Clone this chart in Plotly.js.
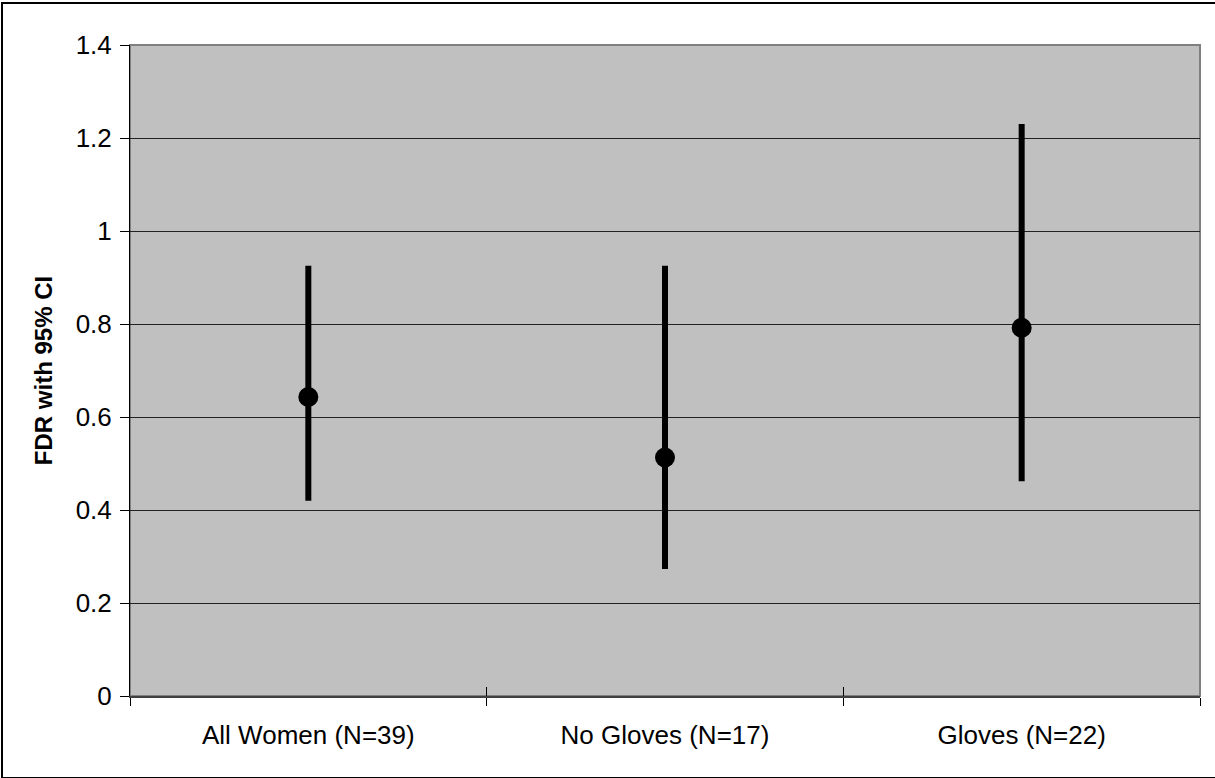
<!DOCTYPE html>
<html>
<head>
<meta charset="utf-8">
<script src="https://cdn.plot.ly/plotly-3.0.1.min.js"></script>
<style>
  html, body { margin: 0; padding: 0; background: #fff; }
  #wrap { position: relative; width: 1215px; height: 778px; overflow: hidden; }
  #chart { width: 1215px; height: 778px; }
  #frame { position: absolute; left: 1px; top: 2px; width: 1216px; height: 773px;
           border: 2px solid #000; pointer-events: none; }
</style>
</head>
<body>
<div id="wrap">
  <div id="chart"></div>
  <div id="frame"></div>
</div>
<script>
// Groups and their FDR point estimates with 95% confidence limits
const groups = ["All Women (N=39)", "No Gloves (N=17)", "Gloves (N=22)"];
const fdr = [0.643, 0.513, 0.792];
const ciUpper = [0.925, 0.925, 1.23];
const ciLower = [0.42, 0.273, 0.462];

const errPlus = fdr.map((v, i) => ciUpper[i] - v);
const errMinus = fdr.map((v, i) => v - ciLower[i]);

const font = "Liberation Sans, Arial, sans-serif";

const trace = {
  type: "scatter",
  mode: "markers",
  x: groups,
  y: fdr,
  marker: { color: "#000", size: 20 },
  error_y: {
    type: "data",
    symmetric: false,
    array: errPlus,
    arrayminus: errMinus,
    color: "#000",
    thickness: 6,
    width: 0
  },
  hoverinfo: "x+y",
  showlegend: false
};

const layout = {
  width: 1215,
  height: 778,
  margin: { l: 130, r: 15, t: 45, b: 82 },
  paper_bgcolor: "#fff",
  plot_bgcolor: "#c0c0c0",
  showlegend: false,
  font: { family: font, size: 26, color: "#000" },
  xaxis: {
    type: "category",
    range: [-0.5, 2.5],
    tickson: "boundaries",
    ticks: "outside",
    ticklen: 8,
    tickwidth: 1,
    tickcolor: "#000",
    showgrid: false,
    showline: true,
    linecolor: "#404040",
    linewidth: 2,
    zeroline: false,
    tickfont: { family: font, size: 26, color: "#000" },
    ticklabelstandoff: 15,
    fixedrange: true
  },
  // second bottom axis supplies the upper half of the crossing tick marks
  xaxis2: {
    type: "category",
    overlaying: "x",
    matches: "x",
    anchor: "y",
    side: "bottom",
    tickson: "boundaries",
    ticks: "inside",
    ticklen: 9,
    tickwidth: 1,
    tickcolor: "#000",
    showticklabels: false,
    showgrid: false,
    showline: false,
    zeroline: false
  },
  yaxis: {
    range: [0, 1.4],
    dtick: 0.2,
    tick0: 0,
    ticks: "outside",
    ticklen: 9,
    tickwidth: 1,
    tickcolor: "#000",
    showgrid: true,
    gridcolor: "#222",
    gridwidth: 1,
    showline: true,
    linecolor: "#000",
    linewidth: 1,
    zeroline: false,
    tickfont: { family: font, size: 26, color: "#000" },
    ticklabelstandoff: 3,
    title: {
      text: "<b>FDR with 95% CI</b>",
      font: { family: font, size: 24, color: "#000" },
      standoff: 16
    },
    fixedrange: true
  },
  shapes: [
    {
      type: "rect", xref: "paper", yref: "paper",
      x0: 0, x1: 1, y0: 0, y1: 1,
      line: { color: "#808080", width: 2 },
      layer: "below"
    }
  ]
};

// invisible trace that anchors the second bottom axis to the same categories
const axisTrace = {
  type: "scatter", mode: "none", x: groups, y: fdr,
  xaxis: "x2", yaxis: "y", hoverinfo: "skip", showlegend: false
};

Plotly.newPlot("chart", [axisTrace, trace], layout, { displayModeBar: false, staticPlot: true });
</script>
</body>
</html>
